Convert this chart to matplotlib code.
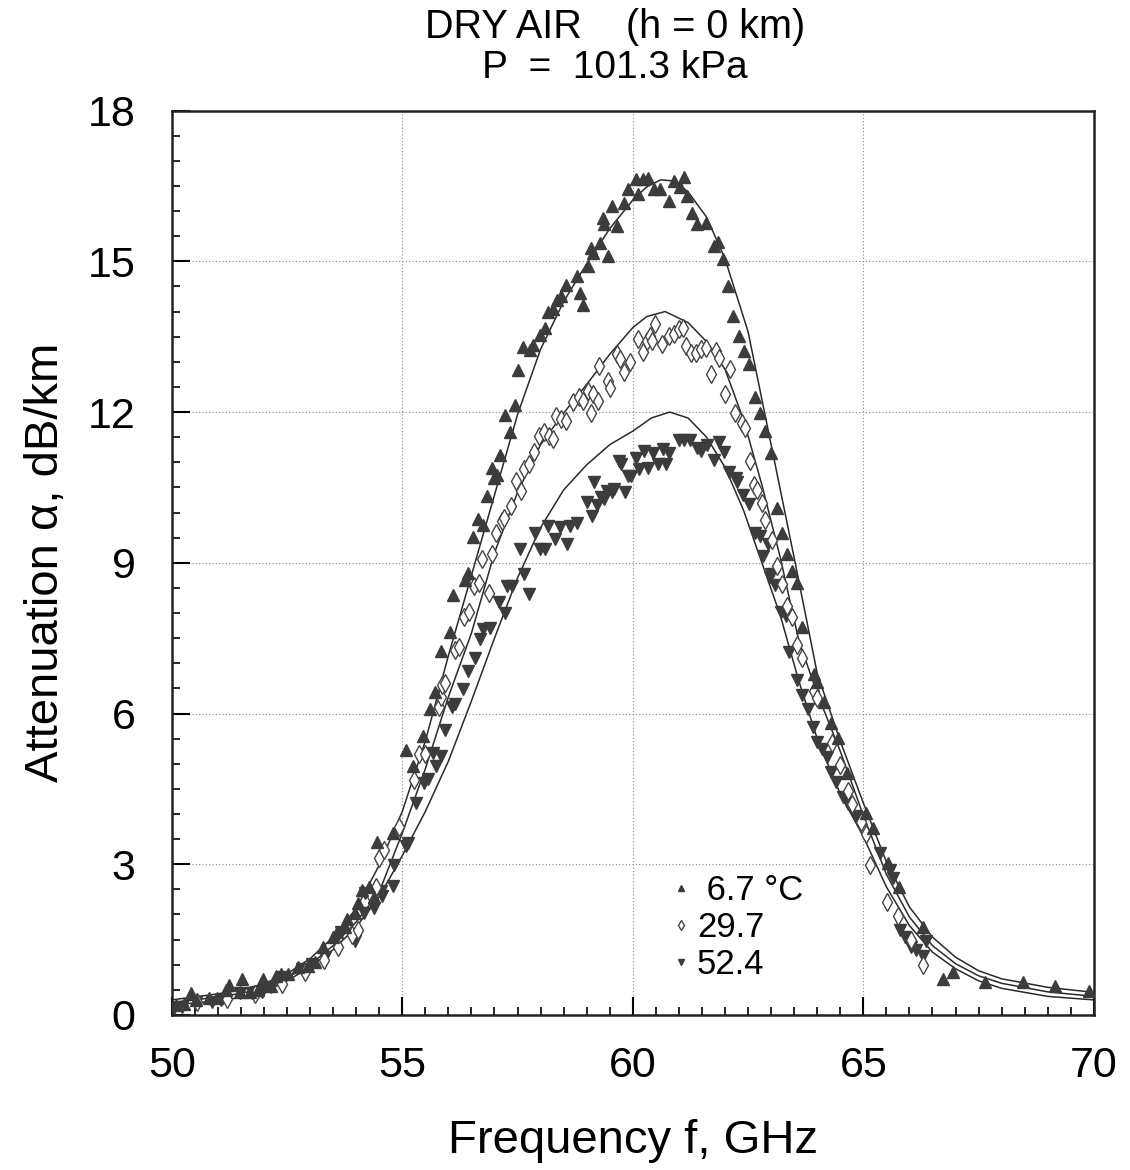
import matplotlib
matplotlib.use('Agg')
import matplotlib.pyplot as plt
from matplotlib.ticker import MultipleLocator

plt.rcParams['font.family'] = ['Liberation Sans', 'DejaVu Sans']

# model curves
c1_f = [50.0, 50.5, 51.0, 51.5, 52.0, 52.5, 53.0, 53.5, 54.0, 54.5, 55.0, 55.5, 56.0, 56.5,
        57.0, 57.5, 58.0, 58.5, 59.0, 59.5, 60.0, 60.3, 60.6, 60.9, 61.2, 61.6, 62.0, 62.5,
        63.0, 63.5, 64.0, 64.5, 65.0, 65.5, 66.0, 66.5, 67.0, 67.5, 68.0, 69.0, 70.0]
c1_a = [0.30, 0.36, 0.42, 0.50, 0.62, 0.82, 1.12, 1.55, 2.12, 2.98, 4.05, 5.45, 7.15, 8.75,
        10.35, 11.95, 13.25, 14.2, 14.95, 15.65, 16.22, 16.48, 16.62, 16.6, 16.38, 15.88, 15.05, 13.6,
        11.35, 9.1, 6.8, 5.45, 4.22, 3.05, 2.15, 1.55, 1.15, 0.88, 0.72, 0.55, 0.45]

c2_f = [50.0, 50.5, 51.0, 51.5, 52.0, 52.5, 53.0, 53.5, 54.0, 54.5, 55.0, 55.5, 56.0, 56.5,
        57.0, 57.5, 58.0, 58.5, 59.0, 59.5, 60.0, 60.3, 60.7, 61.2, 61.6, 62.0, 62.4, 62.8,
        63.2, 63.6, 64.0, 64.5, 65.0, 65.5, 66.0, 66.5, 67.0, 67.5, 68.0, 69.0, 70.0]
c2_a = [0.25, 0.30, 0.36, 0.43, 0.54, 0.74, 1.0, 1.38, 1.85, 2.45, 3.62, 4.9, 6.33, 7.6,
        9.2, 10.4, 11.35, 11.98, 12.55, 13.15, 13.68, 13.9, 14.0, 13.78, 13.4, 12.85, 11.85, 10.55,
        9.1, 7.45, 6.4, 5.25, 3.97, 2.8, 1.95, 1.38, 1.02, 0.78, 0.63, 0.46, 0.37]

c3_f = [50.0, 50.5, 51.0, 51.5, 52.0, 52.5, 53.0, 53.5, 54.0, 54.5, 55.0, 55.5, 56.0, 56.5,
        57.0, 57.5, 58.0, 58.5, 59.0, 59.5, 60.0, 60.4, 60.8, 61.2, 61.6, 62.0, 62.4, 62.8,
        63.2, 63.6, 64.0, 64.5, 65.0, 65.5, 66.0, 66.5, 67.0, 67.5, 68.0, 69.0, 70.0]
c3_a = [0.20, 0.24, 0.28, 0.35, 0.45, 0.68, 0.95, 1.3, 1.75, 2.35, 3.17, 4.05, 5.05, 6.25,
        7.5, 8.7, 9.7, 10.45, 10.95, 11.35, 11.62, 11.88, 12.0, 11.88, 11.5, 10.9, 10.05, 9.0,
        7.95, 6.65, 5.5, 4.4, 3.55, 2.55, 1.78, 1.25, 0.92, 0.68, 0.53, 0.37, 0.30]

# measured points, 6.7 C
s1_f = [50.10, 50.27, 50.42, 50.52, 50.81, 50.99, 51.18, 51.25, 51.47, 51.52, 51.69, 51.87,
        51.98, 52.16, 52.27, 52.38, 52.52, 52.74, 52.96, 53.10, 53.28, 53.50, 53.58, 53.76,
        53.80, 53.98, 54.05, 54.13, 54.27, 54.38, 54.46, 54.79, 55.08, 55.23, 55.45, 55.60,
        55.70, 55.85, 56.03, 56.10, 56.35, 56.42, 56.53, 56.64, 56.75, 56.84, 56.94, 56.98,
        57.05, 57.11, 57.22, 57.33, 57.44, 57.51, 57.62, 57.76, 57.84, 57.98, 58.09, 58.16,
        58.27, 58.35, 58.45, 58.56, 58.79, 58.85, 58.93, 59.03, 59.10, 59.14, 59.28, 59.36,
        59.38, 59.46, 59.54, 59.65, 59.80, 59.90, 60.08, 60.12, 60.23, 60.34, 60.45, 60.60,
        60.78, 60.89, 61.03, 61.11, 61.18, 61.29, 61.40, 61.58, 61.77, 61.84, 61.95, 62.06,
        62.17, 62.31, 62.42, 62.53, 62.64, 62.75, 62.86, 62.99, 63.13, 63.24, 63.35, 63.46,
        63.57, 63.68, 63.93, 64.00, 64.15, 64.29, 64.44, 64.65, 65.05, 65.20, 65.53, 65.78,
        66.29, 66.72, 66.94, 67.63, 68.47, 69.16, 69.89]
s1_a = [0.20, 0.22, 0.43, 0.30, 0.33, 0.33, 0.49, 0.60, 0.45, 0.72, 0.45, 0.49,
        0.72, 0.58, 0.78, 0.82, 0.82, 0.95, 0.98, 1.05, 1.35, 1.55, 1.65, 1.75,
        1.92, 2.02, 2.22, 2.48, 2.55, 2.35, 3.45, 3.62, 5.28, 4.95, 5.55, 6.09,
        6.42, 7.25, 7.62, 8.35, 8.65, 8.80, 9.52, 9.88, 9.75, 10.32, 10.88, 10.68,
        10.75, 11.14, 11.94, 11.60, 12.14, 12.83, 13.30, 13.24, 13.34, 13.54, 13.67, 14.00,
        14.06, 14.23, 14.30, 14.53, 14.70, 14.36, 14.14, 14.90, 15.27, 15.17, 15.36, 15.87,
        15.74, 15.10, 16.10, 15.70, 16.17, 16.43, 16.63, 16.33, 16.63, 16.66, 16.43, 16.43,
        16.20, 16.60, 16.47, 16.67, 16.30, 15.97, 15.74, 15.77, 15.31, 15.38, 15.05, 14.51,
        13.91, 13.52, 13.22, 12.95, 12.30, 11.98, 11.62, 11.19, 10.10, 9.60, 9.17, 8.84,
        8.60, 7.72, 6.79, 6.62, 6.22, 5.82, 5.52, 4.82, 4.02, 3.72, 3.02, 2.55,
        1.75, 0.72, 0.85, 0.65, 0.65, 0.58, 0.48]

# measured points, 29.7 C
s2_f = [50.55, 51.20, 51.80, 52.40, 52.90, 53.30, 53.60, 53.90, 54.04, 54.30, 54.42, 54.50,
        54.60, 54.93, 55.25, 55.36, 55.50, 55.79, 55.83, 55.86, 55.93, 56.15, 56.22, 56.33,
        56.44, 56.55, 56.66, 56.73, 56.88, 56.95, 57.03, 57.17, 57.21, 57.35, 57.46, 57.57,
        57.64, 57.75, 57.86, 57.97, 58.08, 58.19, 58.26, 58.33, 58.44, 58.55, 58.70, 58.84,
        58.91, 59.02, 59.09, 59.13, 59.24, 59.26, 59.46, 59.50, 59.65, 59.72, 59.80, 59.94,
        60.12, 60.23, 60.30, 60.37, 60.41, 60.48, 60.63, 60.79, 60.90, 61.00, 61.08, 61.15,
        61.26, 61.37, 61.48, 61.59, 61.70, 61.81, 61.88, 61.99, 62.10, 62.21, 62.36, 62.43,
        62.54, 62.62, 62.69, 62.80, 62.87, 63.02, 63.13, 63.24, 63.35, 63.46, 63.57, 63.68,
        63.94, 64.00, 64.33, 64.50, 64.66, 64.76, 64.95, 65.05, 65.15, 65.51, 65.76, 66.04,
        66.30]
s2_a = [0.25, 0.32, 0.42, 0.62, 0.85, 1.10, 1.35, 1.60, 1.70, 2.42, 2.55, 3.12,
        3.28, 3.75, 4.67, 5.20, 5.20, 6.13, 6.33, 6.57, 6.60, 7.26, 7.33, 7.93,
        8.03, 8.53, 8.60, 9.07, 8.40, 9.17, 9.60, 9.83, 9.90, 10.13, 10.63, 10.43,
        10.86, 10.96, 11.20, 11.53, 11.60, 11.53, 11.46, 11.93, 11.86, 11.83, 12.19, 12.29,
        12.22, 12.42, 11.99, 12.35, 12.22, 12.91, 12.61, 12.48, 13.16, 13.06, 12.80, 12.99,
        13.46, 13.19, 13.42, 13.52, 13.42, 13.75, 13.35, 13.52, 13.55, 13.65, 13.68, 13.32,
        13.18, 13.18, 13.25, 13.28, 12.75, 13.21, 13.08, 12.35, 12.85, 11.98, 11.78, 11.68,
        11.02, 10.55, 10.45, 10.19, 9.86, 9.46, 8.93, 8.57, 8.13, 7.93, 7.37, 7.10,
        6.44, 6.30, 5.41, 4.98, 4.45, 4.19, 3.85, 3.60, 2.99, 2.24, 1.97, 1.50,
        1.00]

# measured points, 52.4 C
s3_f = [50.05, 50.23, 50.52, 50.88, 51.07, 51.47, 51.73, 51.95, 52.16, 52.42, 52.82, 53.04,
        53.33, 53.66, 53.95, 53.98, 54.17, 54.20, 54.39, 54.53, 54.57, 54.79, 54.82, 55.08,
        55.12, 55.30, 55.48, 55.55, 55.66, 55.74, 55.85, 55.92, 56.07, 56.14, 56.32, 56.43,
        56.58, 56.69, 56.76, 56.90, 57.09, 57.23, 57.27, 57.38, 57.55, 57.63, 57.74, 57.88,
        57.99, 58.10, 58.17, 58.32, 58.42, 58.57, 58.64, 58.79, 59.01, 59.12, 59.15, 59.23,
        59.30, 59.37, 59.45, 59.55, 59.59, 59.70, 59.74, 59.82, 59.89, 59.96, 60.07, 60.14,
        60.25, 60.32, 60.43, 60.54, 60.65, 60.72, 60.79, 61.00, 61.11, 61.25, 61.40, 61.47,
        61.62, 61.76, 61.87, 61.98, 62.09, 62.24, 62.27, 62.38, 62.53, 62.64, 62.75, 62.82,
        62.93, 62.97, 63.00, 63.08, 63.22, 63.33, 63.39, 63.57, 63.68, 63.79, 63.90, 64.00,
        64.11, 64.22, 64.29, 64.40, 64.55, 64.66, 64.84, 64.98, 65.36, 65.57, 65.64, 65.79,
        65.90, 66.04, 66.15, 66.30, 66.37]
s3_a = [0.13, 0.16, 0.26, 0.26, 0.30, 0.43, 0.43, 0.46, 0.56, 0.76, 0.92, 1.02,
        1.15, 1.65, 1.58, 1.48, 2.03, 2.43, 2.13, 2.46, 2.36, 2.56, 2.99, 3.36,
        3.42, 4.22, 4.62, 4.69, 5.22, 4.95, 5.15, 5.68, 6.12, 6.18, 6.48, 6.85,
        7.11, 7.48, 7.68, 7.71, 8.21, 8.01, 8.54, 8.54, 9.27, 8.77, 8.37, 9.60,
        9.27, 9.27, 9.74, 9.47, 9.71, 9.37, 9.74, 9.80, 10.20, 9.94, 10.60, 10.14,
        10.30, 10.27, 10.43, 10.40, 10.47, 11.03, 10.97, 10.40, 10.73, 10.73, 11.09, 10.86,
        11.22, 10.89, 11.19, 10.96, 11.26, 10.96, 11.19, 11.45, 11.45, 11.45, 11.28, 11.22,
        11.35, 11.05, 11.41, 11.21, 10.81, 10.68, 10.61, 10.34, 10.17, 9.60, 9.54, 9.14,
        9.37, 8.72, 8.77, 8.55, 8.02, 7.95, 7.22, 6.66, 6.36, 6.09, 5.73, 5.43,
        5.30, 5.13, 4.83, 4.63, 4.33, 4.20, 3.96, 3.89, 3.22, 2.89, 2.72, 1.69,
        1.55, 1.35, 1.29, 1.18, 1.48]

labels = [' 6.7 \u00b0C', '29.7', '52.4']

fig = plt.figure(figsize=(11.3, 11.7), dpi=100)
ax = fig.add_axes([0.152, 0.1325, 0.816, 0.773])

for cf, ca in [(c1_f, c1_a), (c2_f, c2_a), (c3_f, c3_a)]:
    ax.plot(cf, ca, color='#2a2a2a', lw=1.1, zorder=2, solid_joinstyle='round')

mk = '#3c3c3c'
ax.plot(s3_f, s3_a, 'v', ms=8.8, color=mk, mec=mk, ls='none', zorder=3, label=labels[2])
ax.plot(s2_f, s2_a, 'd', ms=9, mfc='white', mec='#444444', mew=1.0, ls='none', zorder=4, label=labels[1])
ax.plot(s1_f, s1_a, '^', ms=8.8, color=mk, mec=mk, ls='none', zorder=5, label=labels[0])

ax.set_xlim(50, 70)
ax.set_ylim(0, 18)
ax.xaxis.set_major_locator(MultipleLocator(5))
ax.xaxis.set_minor_locator(MultipleLocator(0.5))
ax.yaxis.set_major_locator(MultipleLocator(3))
ax.yaxis.set_minor_locator(MultipleLocator(0.5))
ax.tick_params(which='major', direction='in', length=13, width=1.5, labelsize=31,
               top=False, right=False)
ax.tick_params(which='minor', direction='in', length=6, width=1.2, top=False, right=False)
ax.tick_params(axis='x', which='major', pad=22)
ax.tick_params(axis='y', which='major', pad=26)
for s in ax.spines.values():
    s.set_linewidth(1.8)
    s.set_color('#222222')
ax.grid(True, which='major', ls=(0, (1, 2)), color='#888888', lw=0.8)

ax.set_xlabel('Frequency f, GHz', fontsize=34, labelpad=24)
ax.set_ylabel('Attenuation \u03b1, dB/km', fontsize=34, labelpad=14)

h, l = ax.get_legend_handles_labels()
ax.legend(h[::-1], l[::-1], loc='upper left', bbox_to_anchor=(0.515, 0.183), frameon=False,
          fontsize=25, markerscale=0.55, handlelength=0.6, handletextpad=0.15,
          labelspacing=0.12, borderpad=0.2)

fig.text(0.544, 0.977, 'DRY AIR    (h = 0 km)', ha='center', va='center', fontsize=28.5)
fig.text(0.544, 0.942, 'P  =  101.3 kPa', ha='center', va='center', fontsize=28)

fig.savefig('out.png', dpi=100, facecolor='white')
